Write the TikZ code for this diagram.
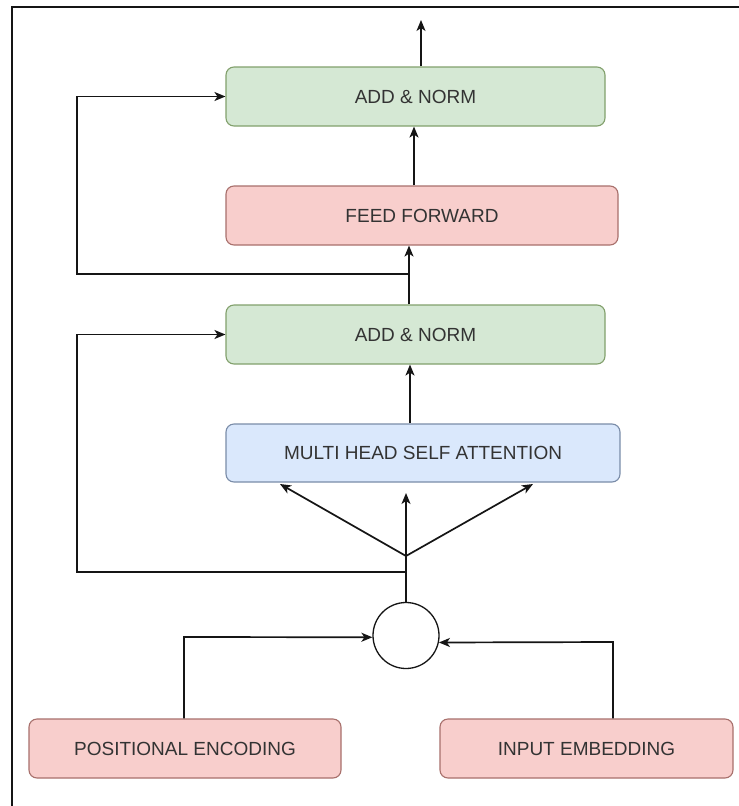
\documentclass[tikz,border=0pt]{standalone}
\usepackage{fontspec}
\setmainfont{Liberation Sans}
\usetikzlibrary{arrows.meta}
\definecolor{greenfill}{HTML}{D5E8D4}
\definecolor{greenline}{HTML}{82A06C}
\definecolor{redfill}{HTML}{F8CECC}
\definecolor{redline}{HTML}{A8706C}
\definecolor{bluefill}{HTML}{DAE8FC}
\definecolor{blueline}{HTML}{7A8CA8}
\definecolor{ink}{HTML}{151515}
\definecolor{label}{HTML}{333333}
\tikzset{
  block/.style={draw, rounded corners=8pt, line width=1.1pt, minimum height=59pt,
    font=\fontsize{19}{22}\selectfont, text=label, inner sep=0pt},
  addnorm/.style={block, fill=greenfill, draw=greenline},
  redblock/.style={block, fill=redfill, draw=redline},
  blueblock/.style={block, fill=bluefill, draw=blueline},
  wire/.style={draw=ink, line width=1.7pt},
  arr/.style={wire, -{Stealth[length=11pt, width=9pt, inset=3pt]}},
  sumnode/.style={draw=ink, circle, line width=1.3pt, minimum size=66pt, inner sep=0pt},
  frame/.style={draw=ink, line width=2.6pt}
}
\begin{document}
\begin{tikzpicture}[x=1pt, y=-1pt]
  \useasboundingbox (0,0) rectangle (739,806);
  \fill[white] (0,0) rectangle (739,806);
  % outer frame (top and left edges)
  \draw[frame] (12,820) -- (12,7) -- (760,7);

  % blocks
  \node[addnorm, minimum width=379pt] (an2) at (415.5,96.5) {ADD \& NORM};
  \node[redblock, minimum width=392pt] (ff) at (422,215.5) {FEED FORWARD};
  \node[addnorm, minimum width=379pt] (an1) at (415.5,334.5) {ADD \& NORM};
  \node[blueblock, minimum width=394pt, minimum height=58pt] (mhsa) at (423,453) {MULTI HEAD SELF ATTENTION};
  \node[sumnode] (sum) at (406,635.5) {};
  \node[redblock, minimum width=312pt] (pe) at (185,748.5) {POSITIONAL ENCODING};
  \node[redblock, minimum width=293pt] (ie) at (586.5,748.5) {INPUT EMBEDDING};

  % helper points
  \coordinate (out) at (421,20);
  \coordinate (j2) at (409,274);
  \coordinate (r2) at (77,274);
  \coordinate (fan) at (406,556);
  \coordinate (j1) at (406,572);
  \coordinate (r1) at (77,572);
  \coordinate (fl) at (280,484);
  \coordinate (fm) at (406,493);
  \coordinate (fr) at (533,484);
  \coordinate (pin) at (184,637);
  \coordinate (iin) at (613,642);

  % output
  \draw[arr] (out |- an2.north) -- (out);
  % feed forward -> add & norm
  \draw[arr] ([xshift=-8pt]ff.north) -- ([xshift=-8pt]ff.north |- an2.south);
  % add & norm -> feed forward, with residual
  \draw[arr] (an1.north -| j2) -- (ff.south -| j2);
  \draw[arr] (j2) -- (r2) -- (r2 |- an2.west) -- (an2.west);
  % attention -> add & norm
  \draw[arr] ([xshift=-13pt]mhsa.north) -- ([xshift=-13pt]mhsa.north |- an1.south);
  % fan-out into attention
  \draw[arr] (fan) -- (fl);
  \draw[arr] (fan) -- (fm);
  \draw[arr] (fan) -- (fr);
  \draw[wire] (sum.north) -- (fan);
  % residual around attention
  \draw[arr] (j1) -- (r1) -- (r1 |- an1.west) -- (an1.west);
  % inputs into the sum
  \draw[arr] (pe.north -| pin) -- (pin) -- (sum.183);
  \draw[arr] (ie.north -| iin) -- (iin) -- (sum.-12);
\end{tikzpicture}
\end{document}
